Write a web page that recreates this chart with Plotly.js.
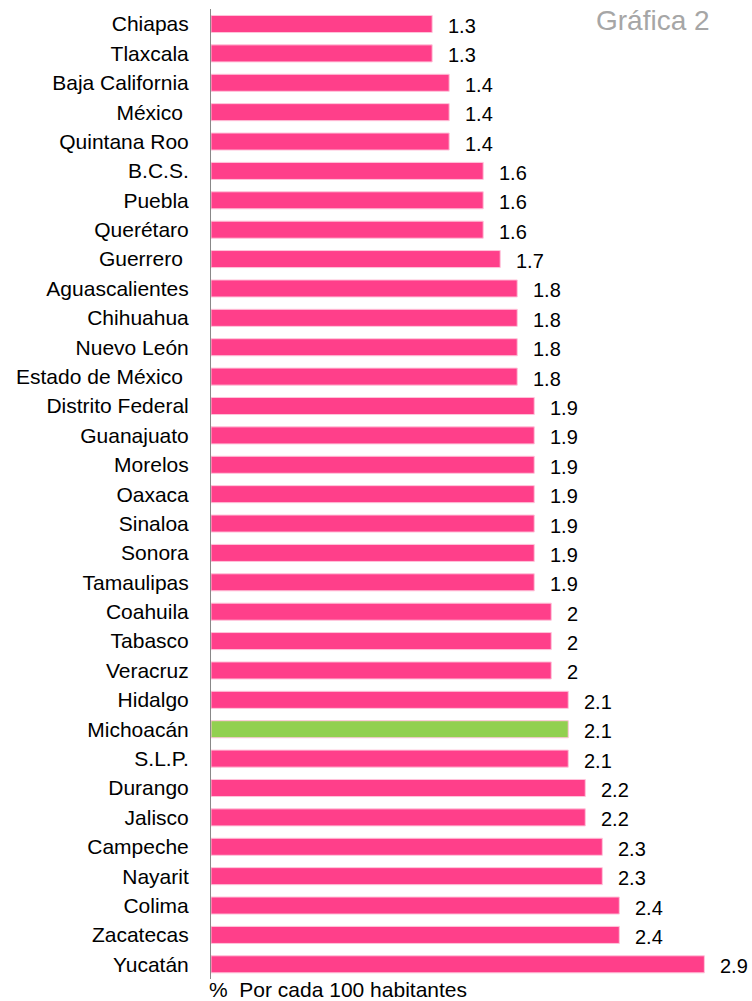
<!DOCTYPE html>
<html><head><meta charset="utf-8">
<script src="https://cdn.plot.ly/plotly-3.0.1.min.js"></script>
<style>body{margin:0;background:#fff}#chart{width:752px;height:1001px}</style>
</head><body><div id="chart"></div>
<script>
const states = ["Chiapas","Tlaxcala","Baja California","México ","Quintana Roo","B.C.S.","Puebla","Querétaro","Guerrero ","Aguascalientes","Chihuahua","Nuevo León","Estado de México ","Distrito Federal","Guanajuato","Morelos","Oaxaca","Sinaloa","Sonora","Tamaulipas","Coahuila","Tabasco","Veracruz","Hidalgo","Michoacán","S.L.P.","Durango","Jalisco","Campeche","Nayarit","Colima","Zacatecas","Yucatán"];
const values = [1.3,1.3,1.4,1.4,1.4,1.6,1.6,1.6,1.7,1.8,1.8,1.8,1.8,1.9,1.9,1.9,1.9,1.9,1.9,1.9,2,2,2,2.1,2.1,2.1,2.2,2.2,2.3,2.3,2.4,2.4,2.9];
const highlight = "Michoacán";
const pink = "#FF3F8A", green = "#92D050";
const FONT = "'Liberation Sans Narrow', 'Arial Narrow', sans-serif";

const colors = states.map(s => s === highlight ? green : pink);
const trace = {
  type: "bar", orientation: "h",
  x: values, y: states,
  marker: {color: colors, line: {color: "#FFC4DA", width: 1}},
  width: 0.58,
  hoverinfo: "none"
};
const valueLabels = states.map((s, i) => ({
  x: values[i], y: s, xref: "x", yref: "y", text: String(values[i]),
  xanchor: "left", yanchor: "middle", xshift: 14, yshift: -2, showarrow: false,
  font: {family: FONT, size: 20, color: "#000"}
}));
const layout = {
  width: 752, height: 1001,
  margin: {l: 211, r: 0, t: 9, b: 22},
  paper_bgcolor: "#fff", plot_bgcolor: "#fff",
  showlegend: false,
  font: {family: FONT, size: 21, color: "#000"},
  xaxis: {range: [0, 3.18], showgrid: false, zeroline: false, showticklabels: false, showline: false, fixedrange: true},
  yaxis: {autorange: "reversed", type: "category", showgrid: false, zeroline: false,
          showline: true, linecolor: "#888", linewidth: 1, ticks: "", ticklabelstandoff: 17,
          tickfont: {family: FONT, size: 21, color: "#000"}},
  annotations: valueLabels.concat([
    {text: "Gráfica 2", xref: "paper", yref: "paper", x: 0.926, y: 1.0, xanchor: "right", yanchor: "top",
     yshift: 6, showarrow: false, font: {family: FONT, size: 28, color: "#A6A6A6"}},
    {text: "%  Por cada 100 habitantes", xref: "paper", yref: "paper", x: 0, y: 0, xanchor: "left", yanchor: "middle",
     xshift: -4, yshift: -10, showarrow: false, font: {family: FONT, size: 21, color: "#000"}}
  ])
};
Plotly.newPlot("chart", [trace], layout, {staticPlot: true});
</script></body></html>
